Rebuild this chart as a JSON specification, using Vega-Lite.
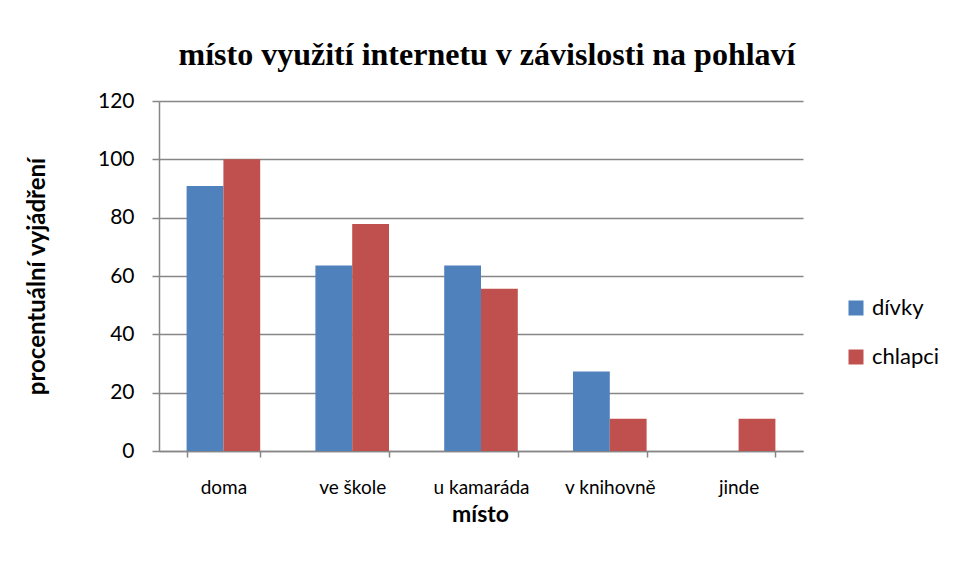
{
  "$schema": "https://vega.github.io/schema/vega-lite/v6.json",
  "width": 644,
  "height": 350,
  "autosize": {"type": "none"},
  "padding": {"left": 159, "top": 101, "right": 152, "bottom": 127},
  "background": "white",
  "title": {
    "text": "místo využití internetu v závislosti na pohlaví",
    "font": "Liberation Serif",
    "fontSize": 32,
    "fontWeight": "bold",
    "color": "black",
    "anchor": "middle",
    "frame": "group",
    "dx": 6,
    "baseline": "alphabetic",
    "offset": -7
  },
  "data": {
    "values": [
      {"misto": "doma", "pohlavi": "dívky", "hodnota": 90.9},
      {"misto": "doma", "pohlavi": "chlapci", "hodnota": 100},
      {"misto": "ve škole", "pohlavi": "dívky", "hodnota": 63.6},
      {"misto": "ve škole", "pohlavi": "chlapci", "hodnota": 77.8},
      {"misto": "u kamaráda", "pohlavi": "dívky", "hodnota": 63.6},
      {"misto": "u kamaráda", "pohlavi": "chlapci", "hodnota": 55.6},
      {"misto": "v knihovně", "pohlavi": "dívky", "hodnota": 27.3},
      {"misto": "v knihovně", "pohlavi": "chlapci", "hodnota": 11.1},
      {"misto": "jinde", "pohlavi": "dívky", "hodnota": 0},
      {"misto": "jinde", "pohlavi": "chlapci", "hodnota": 11.1}
    ]
  },
  "mark": {"type": "bar"},
  "encoding": {
    "x": {
      "field": "misto",
      "type": "nominal",
      "sort": ["doma", "ve škole", "u kamaráda", "v knihovně", "jinde"],
      "scale": {"paddingInner": 0.4286, "paddingOuter": 0.2143},
      "axis": {
        "title": "místo",
        "titleFont": "Lato",
        "titleFontSize": 23,
        "titleFontWeight": "bold",
        "titleColor": "black",
        "titleX": 321,
        "titleY": 63,
        "titleBaseline": "middle",
        "labelAngle": 0,
        "labelFont": "Lato",
        "labelFontSize": 19,
        "labelColor": "black",
        "labelPadding": 21,
        "tickBand": "extent",
        "tickSize": 6,
        "tickColor": "#868686",
        "tickWidth": 1.5,
        "domainColor": "#868686",
        "domainWidth": 1.5
      }
    },
    "xOffset": {
      "field": "pohlavi",
      "type": "nominal",
      "sort": ["dívky", "chlapci"],
      "scale": {"paddingInner": 0, "paddingOuter": 0}
    },
    "y": {
      "field": "hodnota",
      "type": "quantitative",
      "scale": {"domain": [0, 120], "nice": false},
      "axis": {
        "values": [0, 20, 40, 60, 80, 100, 120],
        "title": "procentuální vyjádření",
        "titleFont": "Lato",
        "titleFontSize": 24,
        "titleFontWeight": "bold",
        "titleColor": "black",
        "titleAngle": -90,
        "titleX": -122,
        "titleY": 175,
        "titleBaseline": "middle",
        "titleAlign": "center",
        "labelFont": "Lato",
        "labelFontSize": 21,
        "labelColor": "black",
        "labelPadding": 18,
        "tickSize": 7,
        "tickColor": "#868686",
        "tickWidth": 1.5,
        "domainColor": "#868686",
        "domainWidth": 1.5,
        "grid": true,
        "gridColor": "#868686",
        "gridWidth": 1.5
      }
    },
    "color": {
      "field": "pohlavi",
      "type": "nominal",
      "scale": {"domain": ["dívky", "chlapci"], "range": ["#4F81BD", "#C0504D"]},
      "legend": {
        "title": null,
        "orient": "none",
        "legendX": 686,
        "legendY": 196,
        "symbolType": "square",
        "symbolSize": 225,
        "symbolStrokeWidth": 0,
        "labelFont": "Lato",
        "labelFontSize": 22,
        "labelColor": "black",
        "labelOffset": 5,
        "rowPadding": 27
      }
    }
  },
  "config": {
    "view": {"stroke": null}
  }
}
